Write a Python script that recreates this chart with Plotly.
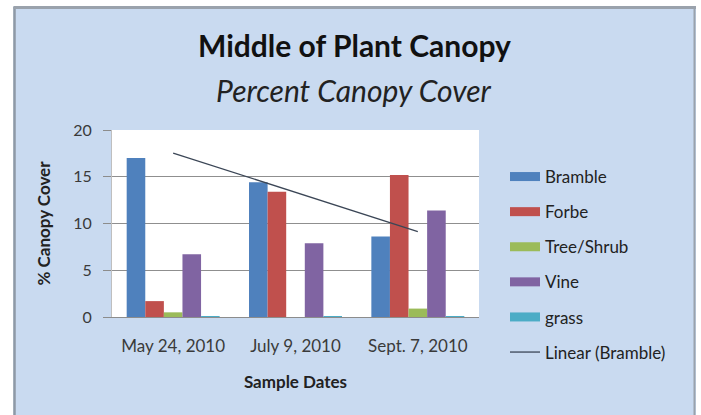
import numpy as np
import plotly.graph_objects as go

# Sample dates and percent canopy cover per plant group
dates = ["May 24, 2010", "July 9, 2010", "Sept. 7, 2010"]
bramble = [17.0, 14.4, 8.6]
forbe = [1.7, 13.4, 15.2]
tree_shrub = [0.5, 0.0, 0.9]
vine = [6.7, 7.9, 11.4]
grass = [0.1, 0.1, 0.1]

series_names = ["Bramble", "Forbe", "Tree/Shrub", "Vine", "grass"]
series_values = [bramble, forbe, tree_shrub, vine, grass]
series_colors = ["#4F81BD", "#C0504D", "#9BBB59", "#8064A2", "#4BACC6"]

W, H = 701, 415
PL, PR, PT, PB = 112, 479, 130, 317  # plot area in pixels


def px(xp):
    return (xp - PL) / (PR - PL)


def py(yp):
    return (PB - yp) / (PB - PT)


FONT = "Lato"
BG = "#C9DAF0"
TREND_COLOR = "#3B4656"

fig = go.Figure()

for name, vals, col in zip(series_names, series_values, series_colors):
    fig.add_trace(go.Bar(x=dates, y=vals, name=name, marker=dict(color=col, line=dict(width=0)),
                         showlegend=False))

# Linear trendline fitted to the Bramble series
idx = np.arange(len(dates))
slope, intercept = np.polyfit(idx, bramble, 1)
trend = slope * idx + intercept
fig.add_trace(go.Scatter(x=dates, y=trend, mode="lines", name="Linear (Bramble)",
                         line=dict(color=TREND_COLOR, width=1.3), showlegend=False))

# Legend entries: wide swatches for the bars, thin line for the trendline
for i, (name, col) in enumerate(zip(series_names, series_colors)):
    fig.add_trace(go.Scatter(x=[None], y=[None], mode="lines", name=name,
                             line=dict(color=col, width=9), legendgroup=f"g{i}"))
fig.add_trace(go.Scatter(x=[None], y=[None], mode="lines", name="Linear (Bramble)",
                         line=dict(color=TREND_COLOR, width=1.3), legendgroup="g5"))

shapes = [
    # white surround and grey frame of the chart box
    dict(type="rect", xref="paper", yref="paper", x0=px(-2), x1=px(13.5), y0=py(H + 2), y1=py(-2),
         fillcolor="white", line=dict(width=0), layer="above"),
    dict(type="rect", xref="paper", yref="paper", x0=px(-2), x1=px(W + 2), y0=py(6), y1=py(-2),
         fillcolor="white", line=dict(width=0), layer="above"),
    dict(type="rect", xref="paper", yref="paper", x0=px(696), x1=px(W + 2), y0=py(H + 2), y1=py(-2),
         fillcolor="white", line=dict(width=0), layer="above"),
    dict(type="line", xref="paper", yref="paper", x0=px(14.5), x1=px(14.5), y0=py(H + 2), y1=py(7),
         line=dict(color="#8E99A6", width=2.5), layer="above"),
    dict(type="line", xref="paper", yref="paper", x0=px(13.5), x1=px(696), y0=py(7.5), y1=py(7.5),
         line=dict(color="#9AA2AC", width=3), layer="above"),
    dict(type="line", xref="paper", yref="paper", x0=px(694.5), x1=px(694.5), y0=py(H + 2), y1=py(7),
         line=dict(color="#9AA2AC", width=2), layer="above"),
]

annotations = [
    dict(text="<b>Middle of Plant Canopy</b>", xref="paper", yref="paper", x=px(354), y=py(45),
         xanchor="center", yanchor="middle", showarrow=False,
         font=dict(family=FONT, size=30, color="#111111")),
    dict(text="<i>Percent Canopy Cover</i>", xref="paper", yref="paper", x=px(354), y=py(90),
         xanchor="center", yanchor="middle", showarrow=False,
         font=dict(family=FONT, size=30, color="#222222")),
]

fig.update_layout(
    width=W, height=H,
    margin=dict(l=PL, r=W - PR, t=PT, b=H - PB, autoexpand=False),
    paper_bgcolor=BG, plot_bgcolor="white",
    barmode="group", bargap=0.24, bargroupgap=0,
    font=dict(family=FONT, color="#333333"),
    shapes=shapes, annotations=annotations,
    legend=dict(x=px(505), y=py(159), xanchor="left", yanchor="top", maxheight=330,
                bgcolor="rgba(0,0,0,0)", font=dict(family=FONT, size=17, color="#222222"),
                tracegroupgap=10, traceorder="grouped"),
    xaxis=dict(showgrid=False, ticks="", tickfont=dict(size=17, color="#3a3a3a"),
               ticklabelstandoff=14,
               showline=True, linecolor="#8c8c8c", linewidth=1,
               title=dict(text="<b>Sample Dates</b>", font=dict(size=17, color="#222222"), standoff=20)),
    yaxis=dict(range=[0, 20], dtick=5, showgrid=True, gridcolor="#8f8f8f", gridwidth=1,
               zeroline=True, zerolinecolor="#8c8c8c", zerolinewidth=1,
               ticks="outside", ticklen=8, tickcolor="#8c8c8c",
               ticklabelstandoff=8,
               showline=True, linecolor="#bfbfbf",
               tickfont=dict(size=16, color="#3a3a3a"),
               title=dict(text="<b>% Canopy Cover</b>", font=dict(size=17, color="#222222"), standoff=18)),
)

fig.write_html("out.html")
